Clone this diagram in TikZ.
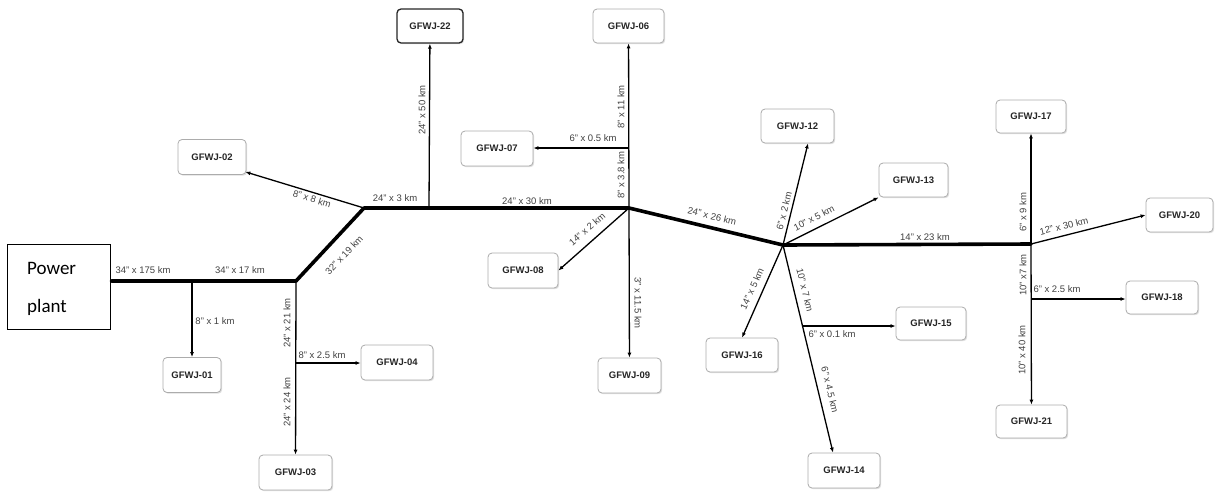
\documentclass[tikz,border=0pt]{standalone}
\usepackage{fontspec}
\setmainfont{Liberation Sans}
\newfontfamily\ppfont{Carlito}
\usetikzlibrary{arrows.meta,shadows,calc}
\begin{document}
\begin{tikzpicture}[x=1pt,y=-1pt,
  well/.style={draw=gray!65,line width=0.8pt,rounded corners=4pt,fill=white,
    drop shadow={shadow xshift=1.2pt,shadow yshift=-1.2pt,opacity=0.25},
    font=\fontsize{9.5}{10}\selectfont\bfseries,text=black!85,inner sep=0pt,minimum height=35pt},
  trunk/.style={line width=3.6pt,line cap=round,line join=round},
  lat/.style={line width=1.3pt,-{Latex[length=5pt,width=4pt]}},
  lbl/.style={font=\fontsize{9.5}{10}\selectfont,text=black!75,inner sep=0pt},
]
\useasboundingbox (0,0) rectangle (1215,491);

% Power plant
\node[draw,line width=1.4pt,minimum width=103pt,minimum height=85pt,inner sep=0pt,
  anchor=north west] (PP) at (7,244) {};
\node[font=\ppfont\fontsize{19}{38}\selectfont,align=left,anchor=north west,inner sep=0pt]
  (PPt) at (27,262) {Power\\plant};

% wells
\node[well,minimum width=58pt] (G01) at (192,375) {GFWJ-01};
\node[well,minimum width=68pt] (G02) at (212,157) {GFWJ-02};
\node[well,minimum width=73pt] (G03) at (295.5,472.5) {GFWJ-03};
\node[well,minimum width=72pt] (G04) at (397,362.5) {GFWJ-04};
\node[well,minimum width=71pt,minimum height=34pt] (G06) at (628.5,26) {GFWJ-06};
\node[well,minimum width=72pt] (G07) at (497,148.5) {GFWJ-07};
\node[well,minimum width=70pt] (G08) at (523,270.5) {GFWJ-08};
\node[well,minimum width=63pt] (G09) at (629.5,375.5) {GFWJ-09};
\node[well,minimum width=73pt,minimum height=34pt] (G12) at (797.5,126) {GFWJ-12};
\node[well,minimum width=69pt,minimum height=34pt] (G13) at (913.5,180) {GFWJ-13};
\node[well,minimum width=72pt] (G14) at (844,470.5) {GFWJ-14};
\node[well,minimum width=70pt,minimum height=33pt] (G15) at (931,323.5) {GFWJ-15};
\node[well,minimum width=72pt,minimum height=34pt] (G16) at (742,355) {GFWJ-16};
\node[well,minimum width=70pt,minimum height=33pt] (G17) at (1031,116.5) {GFWJ-17};
\node[well,minimum width=72pt,minimum height=33pt] (G18) at (1162,297.5) {GFWJ-18};
\node[well,minimum width=67pt,minimum height=34pt] (G20) at (1179.5,215) {GFWJ-20};
\node[well,minimum width=71pt,minimum height=33pt] (G21) at (1031.5,421.5) {GFWJ-21};
\node[well,draw=black!85,line width=1.3pt,minimum width=66pt,minimum height=34pt] (G22) at (430,26) {GFWJ-22};

% junctions
\coordinate (A) at (296,281);
\coordinate (B) at (364,208);
\coordinate (C) at (629,208);
\coordinate (D) at (783,245);
\coordinate (E) at (1031,244);
\coordinate (J01) at (192,281);
\coordinate (J04) at (296,363);
\coordinate (J22) at (429,208);
\coordinate (J07) at (629,148);
\coordinate (J15) at (803,326);
\coordinate (J18) at (1031,299);

% trunk lines
\draw[trunk] (PP.east |- A) -- (A) -- (B) -- (C) -- (D) -- (E);

% branches
\draw[lat] (J01) -- (G01);
\draw[lat] (A) -- (G03);
\draw[lat] (J04) -- (J04 -| G04.west);
\draw[lat] (B) -- ($(G02.south east)+(-1,-3)$);
\draw[lat] (J22) -- (G22);
\draw[lat] (C) -- (G06);
\draw[lat] (J07) -- (J07 -| G07.east);
\draw[lat] (C) -- (G08.east);
\draw[lat] (C) -- (G09);
\draw[lat] (D) -- ($(G12.south)+(10.5,0)$);
\draw[lat] (D) -- (G13.south west);
\draw[lat] (D) -- (G16.north);
\draw[lat] (D) -- ($(G14.north)+(-11,0)$);
\draw[lat] (J15) -- (J15 -| G15.west);
\draw[lat] (E) -- (G17);
\draw[lat] (E) -- (G20.west);
\draw[lat] (E) -- (G21);
\draw[lat] (J18) -- (J18 -| G18.west);

% labels
\node[lbl] (l1) at (143,270) {34" x 175 km};
\node[lbl] (l2) at (240,270) {34" x 17 km};
\node[lbl] (l3) at (215,321) {8" x 1 km};
\node[lbl] (l4) at (322,355) {8" x 2.5 km};
\node[lbl] (l5) at (395,198) {24" x 3 km};
\node[lbl] (l6) at (527,201) {24" x 30 km};
\node[lbl] (l7) at (593,138) {6" x 0.5 km};
\node[lbl] (l8) at (925,237) {14" x 23 km};
\node[lbl] (l9) at (832,334) {6" x 0.1 km};
\node[lbl] (l10) at (1057,289) {6" x 2.5 km};

\node[lbl,rotate=90] (v1) at (287,323) {24" x 21 km};
\node[lbl,rotate=90] (v2) at (287,402) {24" x 24 km};
\node[lbl,rotate=90] (v3) at (422,110) {24" x 50 km};
\node[lbl,rotate=90] (v4) at (621,107) {8" x 11 km};
\node[lbl,rotate=90] (v5) at (621,175) {8" x 3.8 km};
\node[lbl,rotate=90] (v6) at (1023,212) {6" x 9 km};
\node[lbl,rotate=90] (v7) at (1023,275) {10" x7 km};
\node[lbl,rotate=90] (v8) at (1022,350) {10" x 40 km};
\node[lbl,rotate=-90] (v9) at (638,303) {3" x 11.5 km};

\node[lbl,rotate=46.6] (s1) at (344,255) {32" x 19 km};
\node[lbl,rotate=-17.4] (s2) at (312,199) {8" x 8 km};
\node[lbl,rotate=41] (s3) at (587,229) {14" x 2 km};
\node[lbl,rotate=-13.5] (s4) at (712,216) {24" x 26 km};
\node[lbl,rotate=76] (s5) at (784,211) {6" x 2 km};
\node[lbl,rotate=27] (s6) at (814,218) {10" x 5 km};
\node[lbl,rotate=65.7] (s7) at (752,289) {14" x 5 km};
\node[lbl,rotate=-76.4] (s8) at (805,290) {10" x 7 km};
\node[lbl,rotate=-76.4] (s9) at (830,390) {6" x 4.5 km};
\node[lbl,rotate=13.6] (s10) at (1064,226) {12" x 30 km};
\end{tikzpicture}
\end{document}
